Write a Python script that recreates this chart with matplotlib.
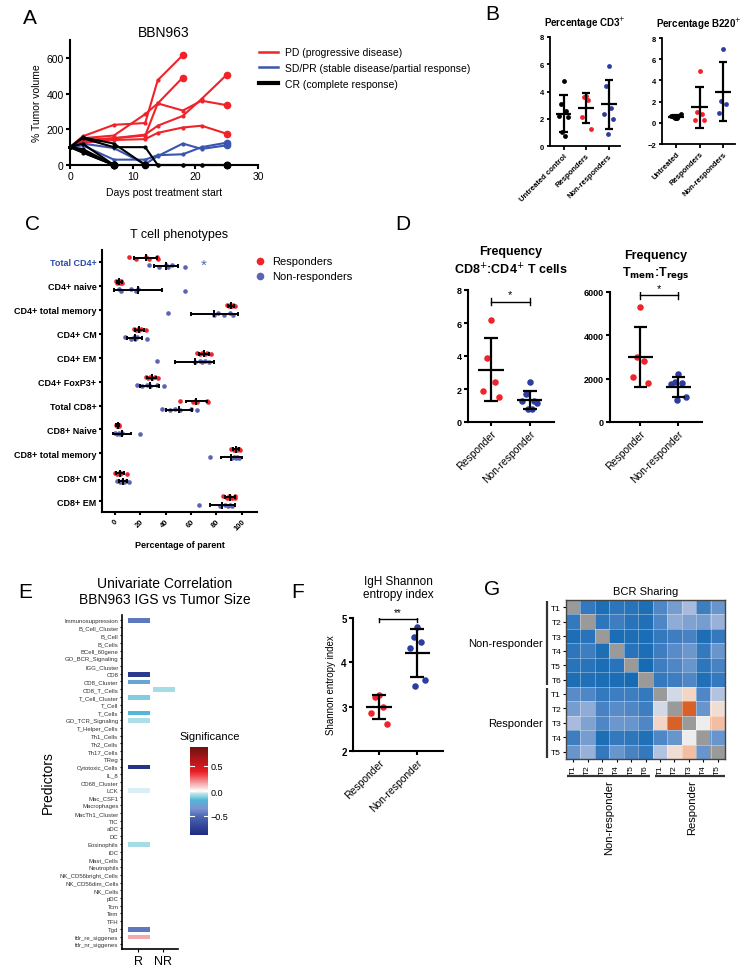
import numpy as np
import matplotlib
matplotlib.use('Agg')
import matplotlib.pyplot as plt
from matplotlib.colors import LinearSegmentedColormap
from matplotlib.lines import Line2D

plt.rcParams['font.family'] = ['Liberation Sans', 'DejaVu Sans']

W, H = 750, 970
RED = '#f0232a'
BLUE = '#2b3d9e'
LBLUE = '#5b63b6'

# ---------------- data ----------------
# A: tumor volume curves (day, % volume)
pd_curves = [
    ([0, 2, 7, 12, 14, 18], [100, 160, 225, 235, 475, 615]),
    ([0, 2, 7, 12, 14, 18], [100, 150, 165, 285, 345, 490]),
    ([0, 2, 7, 12, 14, 18, 21, 25], [100, 140, 150, 165, 345, 305, 360, 335]),
    ([0, 2, 7, 12, 14, 18, 21, 25], [100, 130, 150, 170, 220, 275, 370, 505]),
    ([0, 2, 7, 12, 14, 18, 21, 25], [100, 125, 140, 145, 180, 210, 220, 175]),
]
sd_curves = [
    ([0, 2, 7, 12, 14, 18, 21, 25], [100, 110, 30, 30, 55, 60, 100, 125]),
    ([0, 2, 7, 12, 14, 18, 21, 25], [100, 120, 95, 5, 50, 120, 90, 110]),
]
cr_curves = [
    ([0, 2, 7, 12, 14, 18, 21, 25], [100, 150, 100, 100, 0, 0, 0, 0]),
    ([0, 2, 7, 12], [100, 155, 120, 0]),
    ([0, 2, 7], [100, 90, 0]),
    ([0, 2, 7], [100, 80, 0]),
    ([0, 2, 7], [100, 70, 0]),
    ([0, 7], [100, 0]),
    ([0, 2, 7, 12, 14, 18, 21, 25], [100, 120, 0, 0, 0, 0, 0, 0]),
]

# B: percentages
cd3_untreated = [4.75, 3.1, 2.6, 2.2, 2.15, 1.0, 0.75]
cd3_resp = [3.65, 3.6, 3.35, 2.1, 1.25]
cd3_nonresp = [5.9, 4.4, 2.8, 2.35, 2.0, 0.85]
b220_untreated = [0.5, 0.55, 0.6, 0.65, 0.8, 0.5, 0.45]
b220_resp = [4.85, 1.0, 0.85, 0.3, 0.25]
b220_nonresp = [7.0, 2.1, 1.8, 0.9]
b_cd3_labels = ['Untreated control', 'Responders', 'Non-responders']
b_b220_labels = ['Untreated', 'Responders', 'Non-responders']

# C: T cell phenotypes (% of parent)
c_rows = ['Total CD4+', 'CD4+ naive', 'CD4+ total memory', 'CD4+ CM', 'CD4+ EM',
          'CD4+ FoxP3+', 'Total CD8+', 'CD8+ Naive', 'CD8+ total memory',
          'CD8+ CM', 'CD8+ EM']
c_resp = [
    [11, 17, 25, 27, 33, 34],
    [1, 2, 3.5, 4.5, 5, 6],
    [88, 90, 91, 92, 93, 95],
    [15, 17, 18, 19.5, 21, 25],
    [64.5, 67, 69, 71, 72.5, 75.5],
    [25, 26.5, 28, 29.5, 32, 34],
    [51, 61.5, 63, 64.5, 72.5, 73.5],
    [1, 1.5, 2, 2.5, 3, 3.5],
    [91.5, 94, 96, 96.5, 97.5, 98.5],
    [0.5, 2, 3, 4, 5, 10],
    [85.5, 88, 90, 92, 94.5, 95],
]
c_nonresp = [
    [27, 35, 40, 42, 45, 55],
    [3, 5, 13, 17, 18, 55],
    [42, 78, 81, 86, 91, 93],
    [8, 13, 15, 16, 17.5, 25.5],
    [33, 63, 67, 69, 71, 74],
    [17.5, 21.5, 25.5, 28, 33, 39],
    [37.5, 43.5, 47.5, 51.5, 60, 65],
    [0.5, 2, 3, 4.5, 5.5, 20],
    [75, 92, 94, 95.5, 96.5, 97.5],
    [2, 4, 5.5, 7, 9, 11],
    [66, 83, 87, 89, 91, 92.5],
]

# D: frequencies
d_ratio_resp = [6.2, 3.9, 2.4, 1.85, 1.5]
d_ratio_nonresp = [2.4, 1.7, 1.3, 1.3, 1.15, 0.8, 0.8]
d_tmem_resp = [5300, 3000, 2800, 2100, 1800]
d_tmem_nonresp = [2200, 1850, 1800, 1750, 1150, 1000]
d_labels = ['Responder', 'Non-responder']

# E: univariate correlation
e_predictors = ['Immunosuppression', 'B_Cell_Cluster', 'B_Cell', 'B_Cells', 'BCell_60gene',
                'GO_BCR_Signaling', 'IGG_Cluster', 'CD8', 'CD8_Cluster', 'CD8_T_Cells',
                'T_Cell_Cluster', 'T_Cell', 'T_Cells', 'GO_TCR_Signaling', 'T_Helper_Cells',
                'Th1_Cells', 'Th2_Cells', 'Th17_Cells', 'TReg', 'Cytotoxic_Cells', 'IL_8',
                'CD68_Cluster', 'LCK', 'Mac_CSF1', 'Macrophages', 'MacTh1_Cluster', 'TIC',
                'aDC', 'DC', 'Eosinophils', 'iDC', 'Mast_Cells', 'Neutrophils',
                'NK_CD56bright_Cells', 'NK_CD56dim_Cells', 'NK_Cells', 'pDC', 'Tcm', 'Tem',
                'TFH', 'Tgd', 'fdr_re_siggenes', 'fdr_nr_siggenes']
e_sig_R = {'Immunosuppression': -0.45, 'CD8': -0.78, 'CD8_Cluster': -0.26,
           'T_Cell_Cluster': -0.12, 'T_Cells': -0.18, 'GO_TCR_Signaling': -0.07,
           'Cytotoxic_Cells': -0.82, 'LCK': -0.03, 'Eosinophils': -0.08,
           'Tgd': -0.45, 'fdr_re_siggenes': 0.15}
e_sig_NR = {'CD8_T_Cells': -0.08}
e_cols = ['R', 'NR']

# F: Shannon entropy
f_resp = [3.27, 3.22, 3.0, 2.85, 2.62]
f_nonresp = [4.8, 4.58, 4.45, 4.33, 3.6, 3.47]

# G: BCR sharing (0 = low/blue, 1 = high/orange), diagonal missing
g_samples = ['T1', 'T2', 'T3', 'T4', 'T5', 'T6', 'T1', 'T2', 'T3', 'T4', 'T5']
g_sharing = [
    [np.nan, 0.12, 0.05, 0.10, 0.08, 0.05, 0.20, 0.28, 0.38, 0.15, 0.25],
    [0.12, np.nan, 0.10, 0.15, 0.08, 0.06, 0.20, 0.33, 0.30, 0.28, 0.35],
    [0.05, 0.08, np.nan, 0.04, 0.05, 0.04, 0.12, 0.15, 0.18, 0.05, 0.12],
    [0.10, 0.15, 0.05, np.nan, 0.08, 0.05, 0.15, 0.22, 0.26, 0.12, 0.25],
    [0.08, 0.08, 0.04, 0.08, np.nan, 0.03, 0.15, 0.20, 0.25, 0.10, 0.18],
    [0.05, 0.06, 0.04, 0.04, 0.03, np.nan, 0.12, 0.15, 0.20, 0.06, 0.12],
    [0.22, 0.20, 0.12, 0.15, 0.15, 0.12, np.nan, 0.45, 0.58, 0.20, 0.40],
    [0.28, 0.33, 0.18, 0.22, 0.20, 0.15, 0.45, np.nan, 0.95, 0.25, 0.55],
    [0.38, 0.30, 0.20, 0.26, 0.25, 0.20, 0.58, 0.95, np.nan, 0.50, 0.65],
    [0.15, 0.28, 0.05, 0.12, 0.10, 0.06, 0.20, 0.25, 0.50, np.nan, 0.25],
    [0.25, 0.35, 0.12, 0.25, 0.18, 0.12, 0.40, 0.55, 0.65, 0.25, np.nan],
]


# ---------------- helpers ----------------
def add_ax(fig, l, t, r, b):
    """axes from pixel box (left, top, right, bottom)"""
    return fig.add_axes([l / W, 1 - b / H, (r - l) / W, (b - t) / H])


def style(ax, lw=1.5):
    for s in ['top', 'right']:
        ax.spines[s].set_visible(False)
    for s in ['left', 'bottom']:
        ax.spines[s].set_linewidth(lw)
    ax.tick_params(width=lw, length=3, pad=1.5)


def spread(n):
    pat = np.array([0, -0.1, 0.1, -0.2, 0.2, -0.05, 0.05, 0.15])
    return pat[:n]


def dot_plot(ax, groups, colors, size=16, half=0.3, cap=0.17):
    for i, (vals, c) in enumerate(zip(groups, colors)):
        vals = np.asarray(vals, float)
        ax.scatter(i + spread(len(vals)), vals, s=size, color=c, linewidths=0, zorder=3,
                   clip_on=False)
        m, sd = vals.mean(), vals.std(ddof=1)
        kw = dict(color='black', lw=1.6, zorder=4, solid_capstyle='butt')
        ax.plot([i - half, i + half], [m, m], **kw)
        ax.plot([i, i], [m - sd, m + sd], **kw)
        ax.plot([i - cap, i + cap], [m - sd, m - sd], **kw)
        ax.plot([i - cap, i + cap], [m + sd, m + sd], **kw)


def bracket(ax, y, h, star, fs=8, gap=1.0):
    ax.plot([0, 1], [y, y], color='black', lw=1)
    ax.plot([0, 0], [y - h, y + h], color='black', lw=1)
    ax.plot([1, 1], [y - h, y + h], color='black', lw=1)
    ax.text(0.5, y + h * gap, star, ha='center', va='bottom', fontsize=fs)


def letter(fig, x, y, s):
    fig.text(x / W, 1 - y / H, s, fontsize=15, ha='center', va='center')


fig = plt.figure(figsize=(W / 100, H / 100), dpi=100)

# ---------------- A ----------------
ax = add_ax(fig, 70, 41, 258, 166)
style(ax)
for curves, col in [(pd_curves, RED), (sd_curves, '#3a55b0'), (cr_curves, 'black')]:
    for d, v in curves:
        ax.plot(d, v, color=col, lw=1.5, marker='o', ms=2.0, clip_on=False, zorder=3)
        ax.plot(d[-1], v[-1], color=col, marker='o', ms=4.5, clip_on=False, zorder=4)
ax.set_xlim(0, 30)
ax.set_ylim(0, 700)
ax.set_xticks([0, 10, 20, 30])
ax.set_yticks([0, 200, 400, 600])
ax.tick_params(labelsize=7.5)
ax.set_xlabel('Days post treatment start', fontsize=7.5, labelpad=4)
ax.set_ylabel('% Tumor volume', fontsize=7.5, labelpad=3)
ax.set_title('BBN963', fontsize=10, pad=3)
handles = [Line2D([], [], color=RED, lw=1.8), Line2D([], [], color='#3a55b0', lw=1.8),
           Line2D([], [], color='black', lw=3)]
fig.legend(handles, ['PD (progressive disease)', 'SD/PR (stable disease/partial response)',
                     'CR (complete response)'],
           loc='upper left', bbox_to_anchor=(255 / W, 1 - 44 / H), frameon=False,
           fontsize=7.5, handlelength=1.8, handletextpad=0.7, labelspacing=0.55,
           borderaxespad=0)
letter(fig, 30, 18, 'A')

# ---------------- B ----------------
for (l, t, r, b), groups, labels, ylim, yt, title in [
        ((550, 38, 620, 147), [cd3_untreated, cd3_resp, cd3_nonresp], b_cd3_labels,
         (0, 8), [0, 2, 4, 6, 8], 'Percentage CD3$^{+}$'),
        ((662, 39, 735, 145), [b220_untreated, b220_resp, b220_nonresp], b_b220_labels,
         (-2, 8), [-2, 0, 2, 4, 6, 8], 'Percentage B220$^{+}$')]:
    ax = add_ax(fig, l, t, r, b)
    style(ax, 1.3)
    dot_plot(ax, groups, ['black', RED, BLUE], size=12, half=0.35, cap=0.18)
    ax.set_xlim(-0.6, 2.5)
    ax.set_ylim(*ylim)
    ax.set_yticks(yt)
    ax.set_xticks(range(3))
    ax.set_xticklabels(labels, rotation=45, ha='right', rotation_mode='anchor',
                       fontsize=5.5, fontweight='bold')
    ax.tick_params(axis='y', labelsize=5.5, length=2.5)
    for lab in ax.get_yticklabels():
        lab.set_fontweight('bold')
    ax.set_title(title, fontsize=7, fontweight='bold', pad=8)
letter(fig, 492, 15, 'B')

# ---------------- C ----------------
ax = add_ax(fig, 102, 251, 257, 513)
style(ax, 1.5)
ybase = np.arange(len(c_rows))
for k, (vals_list, col, dy) in enumerate([(c_resp, RED, -0.17), (c_nonresp, LBLUE, 0.17)]):
    for i, vals in enumerate(vals_list):
        vals = np.asarray(vals, float)
        yy = ybase[i] + dy + np.array([(j % 2) * 0.06 - 0.03 for j in range(len(vals))])
        ax.scatter(vals, yy, s=11, color=col, linewidths=0, zorder=3)
        m, sd = vals.mean(), vals.std(ddof=1)
        y0 = ybase[i] + dy
        kw = dict(color='black', lw=1.4, zorder=4, solid_capstyle='butt')
        ax.plot([m - sd, m + sd], [y0, y0], **kw)
        ax.plot([m, m], [y0 - 0.15, y0 + 0.15], **kw)
        ax.plot([m - sd, m - sd], [y0 - 0.08, y0 + 0.08], **kw)
        ax.plot([m + sd, m + sd], [y0 - 0.08, y0 + 0.08], **kw)
ax.text(70, 0.1, '*', color=LBLUE, fontsize=11, ha='center', va='center')
ax.set_xlim(-10, 112)
ax.set_ylim(10.45, -0.5)
ax.set_yticks(ybase)
ax.set_yticklabels(c_rows, fontsize=6.5, fontweight='bold')
ax.get_yticklabels()[0].set_color('#2b4bab')
ax.set_xticks([0, 20, 40, 60, 80, 100])
ax.set_xticklabels(['0', '20', '40', '60', '80', '100'], rotation=45, ha='right',
                   rotation_mode='anchor', fontsize=5.5, fontweight='bold')
ax.tick_params(length=2.5)
ax.set_xlabel('Percentage of parent', fontsize=6.5, fontweight='bold', labelpad=6)
ax.set_title('T cell phenotypes', fontsize=9, pad=9)
leg_h = [Line2D([], [], ls='', marker='o', ms=4.5, color=RED),
         Line2D([], [], ls='', marker='o', ms=4.5, color=LBLUE)]
fig.legend(leg_h, ['Responders', 'Non-responders'], loc='upper left',
           bbox_to_anchor=(250 / W, 1 - 253 / H), frameon=False, fontsize=8,
           handlelength=1.0, handletextpad=0.6, labelspacing=0.45, borderaxespad=0)
letter(fig, 32, 225, 'C')

# ---------------- D ----------------
for (l, t, r, b), groups, ylim, yt, xl, title, by, bh in [
        ((468, 291, 554, 423), [d_ratio_resp, d_ratio_nonresp], (0, 8), [0, 2, 4, 6, 8],
         (-0.6, 1.63), 'Frequency\nCD8$^{+}$:CD4$^{+}$ T cells', 7.3, 0.2),
        ((610, 293, 702, 423), [d_tmem_resp, d_tmem_nonresp], (0, 6000),
         [0, 2000, 4000, 6000], (-0.8, 1.62), 'Frequency\nT$_{\\mathbf{mem}}$:T$_{\\mathbf{regs}}$',
         5850, 150)]:
    ax = add_ax(fig, l, t, r, b)
    style(ax, 1.5)
    dot_plot(ax, groups, [RED, BLUE], size=22, half=0.33, cap=0.18)
    bracket(ax, by, bh, '*', fs=8, gap=0.6)
    ax.set_xlim(*xl)
    ax.set_ylim(*ylim)
    ax.set_yticks(yt)
    ax.set_xticks([0, 1])
    ax.set_xticklabels(d_labels, rotation=45, ha='right', rotation_mode='anchor', fontsize=7.5)
    ax.tick_params(axis='y', labelsize=6.5)
    for lab in ax.get_yticklabels():
        lab.set_fontweight('bold')
    ax.set_title(title, fontsize=9, fontweight='bold', pad=12, linespacing=1.3)
letter(fig, 403, 225, 'D')

# ---------------- E ----------------
ax = add_ax(fig, 122, 616, 178, 950)
sig = np.full((len(e_predictors), 2), np.nan)
for j, dct in enumerate([e_sig_R, e_sig_NR]):
    for name, v in dct.items():
        sig[e_predictors.index(name), j] = v
sig_cmap = LinearSegmentedColormap.from_list('sig', [
    (0.0, '#1e2b80'), (0.2, '#4a62b0'), (0.3, '#7b93cf'), (0.4, '#50b8d8'),
    (0.47, '#bde6ea'), (0.5, '#ffffff'), (0.56, '#f6c2c4'), (0.72, '#ec1c24'),
    (1.0, '#701010')])
mesh = ax.pcolormesh(np.arange(3) - 0.5, np.arange(len(e_predictors) + 1) - 0.5,
                     np.ma.masked_invalid(sig), cmap=sig_cmap, vmin=-0.88, vmax=0.88,
                     edgecolors='white', linewidth=0.8)
ax.set_xlim(-0.65, 1.6)
ax.set_ylim(len(e_predictors) - 0.4, -0.6)
for s in ['top', 'right']:
    ax.spines[s].set_visible(False)
ax.spines['left'].set_linewidth(1.2)
ax.spines['bottom'].set_linewidth(1.2)
ax.set_yticks(range(len(e_predictors)))
ax.set_yticklabels(e_predictors, fontsize=4.3, color='#333333')
ax.set_xticks([0, 1])
ax.set_xticklabels(e_cols, fontsize=9)
ax.tick_params(axis='y', length=1.5, width=0.8, pad=1)
ax.tick_params(axis='x', length=2, width=0.8, pad=2)
ax.set_ylabel('Predictors', fontsize=10, labelpad=6)
ax.yaxis.set_label_coords(-1.2, 0.5)
fig.text(165 / W, 1 - 592 / H, 'Univariate Correlation\nBBN963 IGS vs Tumor Size',
         ha='center', va='center', fontsize=10, linespacing=1.1)
cax = add_ax(fig, 190, 748, 208, 836)
cb = fig.colorbar(mesh, cax=cax, ticks=[-0.5, 0, 0.5])
cb.outline.set_visible(False)
cb.ax.set_yticklabels(['\u22120.5', '0.0', '0.5'])
cb.ax.tick_params(labelsize=6.5, length=0, pad=2)
for v in [-0.5, 0, 0.5]:
    cb.ax.axhline(v, xmin=0, xmax=0.2, color='white', lw=0.8)
    cb.ax.axhline(v, xmin=0.8, xmax=1, color='white', lw=0.8)
fig.text(210 / W, 1 - 737 / H, 'Significance', ha='center', va='center', fontsize=8)
letter(fig, 25, 592, 'E')

# ---------------- F ----------------
ax = add_ax(fig, 353, 619, 443, 752)
style(ax, 1.5)
dot_plot(ax, [f_resp, f_nonresp], [RED, BLUE], size=22, half=0.33, cap=0.18)
bracket(ax, 4.98, 0.06, '**', fs=7, gap=0.8)
ax.set_xlim(-0.68, 1.67)
ax.set_ylim(2, 5)
ax.set_yticks([2, 3, 4, 5])
ax.set_xticks([0, 1])
ax.set_xticklabels(d_labels, rotation=45, ha='right', rotation_mode='anchor', fontsize=7.5)
ax.tick_params(axis='y', labelsize=7)
for lab in ax.get_yticklabels():
    lab.set_fontweight('bold')
ax.set_ylabel('Shannon entropy index', fontsize=7, labelpad=4)
ax.set_title('IgH Shannon\nentropy index', fontsize=8.5, pad=15, linespacing=1.1)
letter(fig, 298, 592, 'F')

# ---------------- G ----------------
ax = add_ax(fig, 566, 601, 725, 760)
g_cmap = LinearSegmentedColormap.from_list('bcr', [
    (0.0, '#0f67b1'), (0.2, '#4f86c6'), (0.38, '#a8bbdc'), (0.5, '#eeeeee'),
    (0.62, '#f5c9b2'), (0.8, '#e5854f'), (1.0, '#d4561c')])
g_cmap.set_bad('#9a9a9a')
ax.imshow(np.ma.masked_invalid(np.array(g_sharing)), cmap=g_cmap, vmin=0, vmax=1,
          aspect='auto', interpolation='nearest')
n = len(g_samples)
for k in range(n + 1):
    ax.axhline(k - 0.5, color='white', lw=0.4, alpha=0.6)
    ax.axvline(k - 0.5, color='white', lw=0.4, alpha=0.6)
for s in ax.spines.values():
    s.set_color('#444444')
    s.set_linewidth(1)
ax.set_xticks(range(n))
ax.set_yticks(range(n))
ax.set_xticklabels(g_samples, rotation=90, fontsize=6)
ax.set_yticklabels(g_samples, fontsize=6)
ax.tick_params(length=2, width=0.8, pad=1.5)
ax.set_title('BCR Sharing', fontsize=8, pad=4)
lk = dict(color='#333333', lw=1.6, clip_on=False, solid_capstyle='butt')
ax.plot([-1.8, -1.8], [-0.4, 5.4], **lk)
ax.plot([-1.8, -1.8], [5.6, 10.4], **lk)
ax.plot([-0.4, 5.3], [11.65, 11.65], **lk)
ax.plot([5.65, 10.5], [11.65, 11.65], **lk)
ax.text(-2.1, 2.5, 'Non-responder', ha='right', va='center', fontsize=8)
ax.text(-2.1, 8.0, 'Responder', ha='right', va='center', fontsize=8)
ax.text(2.5, 11.9, 'Non-responder', ha='center', va='top', rotation=90, fontsize=8)
ax.text(8.2, 11.9, 'Responder', ha='center', va='top', rotation=90, fontsize=8)
ax.set_xlim(-0.5, n - 0.5)
ax.set_ylim(n - 0.5, -0.5)
letter(fig, 492, 590, 'G')

fig.savefig('out.png', dpi=100)
